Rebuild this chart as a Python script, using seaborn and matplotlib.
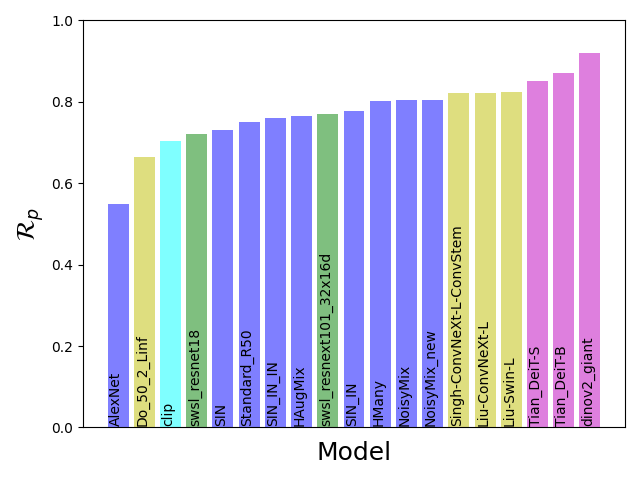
import matplotlib
matplotlib.use("Agg")
import matplotlib.pyplot as plt
import seaborn as sns
import pandas as pd

models = ["AlexNet", "Do_50_2_Linf", "clip", "swsl_resnet18", "SIN", "Standard_R50",
          "SIN_IN_IN", "HAugMix", "swsl_resnext101_32x16d", "SIN_IN", "HMany", "NoisyMix",
          "NoisyMix_new", "Singh-ConvNeXt-L-ConvStem", "Liu-ConvNeXt-L", "Liu-Swin-L",
          "Tian_DeiT-S", "Tian_DeiT-B", "dinov2_giant"]
values = [0.548, 0.664, 0.703, 0.720, 0.730, 0.750, 0.760, 0.765, 0.770, 0.778,
          0.802, 0.804, 0.804, 0.821, 0.821, 0.824, 0.851, 0.872, 0.919]
groups = ["b", "y", "cyan", "g", "b", "b", "b", "b", "g", "b",
          "b", "b", "b", "y", "y", "y", "m", "m", "m"]

df = pd.DataFrame({"model": models, "value": values})

fig, ax = plt.subplots(figsize=(6.4, 4.8), dpi=100)
palette = {m: c for m, c in zip(models, groups)}
sns.barplot(data=df, x="model", y="value", hue="model", palette=palette,
            saturation=1, alpha=0.5, width=0.8, legend=False, ax=ax)
n = len(models)
ax.set_xlim(-0.4 - 0.94, n - 1 + 0.4 + 0.94)
ax.set_ylim(0, 1.0)
ax.set_xticks([])
for i, m in enumerate(models):
    ax.text(i - 0.34, 0.003, m, rotation=90, ha="left", va="bottom", fontsize=10)
ax.set_xlabel("Model", fontsize=18, labelpad=9.8)
ax.set_ylabel(r"$\mathcal{R}_p$", fontsize=18)
fig.tight_layout()
fig.savefig("out.png", dpi=100)
